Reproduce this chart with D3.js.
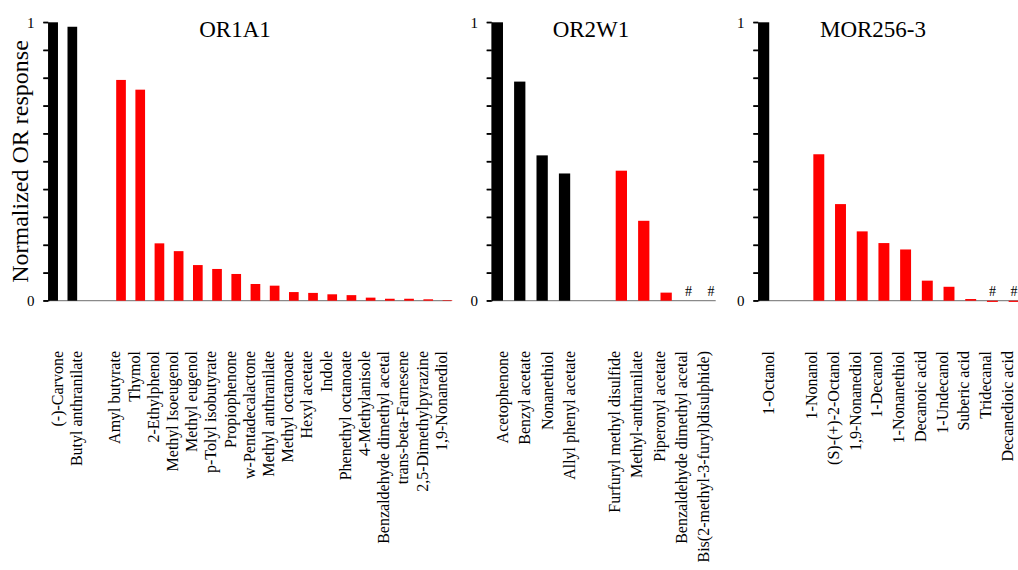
<!DOCTYPE html>
<html>
<head>
<meta charset="utf-8">
<script src="https://cdn.jsdelivr.net/npm/d3@7"></script>
<style>
  html, body { margin: 0; padding: 0; background: #fff; }
  svg { display: block; font-family: "Liberation Serif", "Times New Roman", serif; }
</style>
</head>
<body>
<svg id="chart" width="1018" height="570"></svg>
<script>
// ---------------- DATA ----------------
const yAxisTitle = "Normalized OR response";
const yTickLabels = ["0", "1"];
const yTickValues = [0, 0.1, 0.2, 0.3, 0.4, 0.5, 0.6, 0.7, 0.8, 0.9, 1];
const seriesKeys = ["black", "red"];

const or1a1Title = "OR1A1";
const or1a1Categories = ["(-)-Carvone", "Butyl anthranilate", "", "Amyl butyrate", "Thymol", "2-Ethylphenol",
  "Methyl Isoeugenol", "Methyl eugenol", "p-Tolyl isobutyrate", "Propiophenone", "w-Pentadecalactone",
  "Methyl anthranilate", "Methyl octanoate", "Hexyl acetate", "Indole", "Phenethyl octanoate",
  "4-Methylanisole", "Benzaldehyde dimethyl acetal", "trans-beta-Farnesene", "2,5-Dimethylpyrazine",
  "1,9-Nonanediol"];
const or1a1Black = [1.0, 0.984, null, null, null, null, null, null, null, null, null,
  null, null, null, null, null, null, null, null, null, null];
const or1a1Red = [null, null, null, 0.793, 0.758, 0.206, 0.178, 0.128, 0.114, 0.096, 0.060,
  0.054, 0.031, 0.028, 0.023, 0.020, 0.011, 0.007, 0.007, 0.005, 0.002];
const or1a1Marks = ["", "", "", "", "", "", "", "", "", "", "", "", "", "", "", "", "", "", "", "", ""];

const or2w1Title = "OR2W1";
const or2w1Categories = ["Acetophenone", "Benzyl acetate", "Nonanethiol", "Allyl phenyl acetate", "",
  "Furfuryl methyl disulfide", "Methyl-anthranilate", "Piperonyl acetate",
  "Benzaldehyde dimethyl acetal", "Bis(2-methyl-3-furyl)disulphide)"];
const or2w1Black = [1.0, 0.787, 0.522, 0.457, null, null, null, null, null, null];
const or2w1Red = [null, null, null, null, null, 0.467, 0.287, 0.029, 0, 0];
const or2w1Marks = ["", "", "", "", "", "", "", "", "#", "#"];

const mor256Title = "MOR256-3";
const mor256Categories = ["1-Octanol", "", "1-Nonanol", "(S)-(+)-2-Octanol", "1,9-Nonanediol", "1-Decanol",
  "1-Nonanethiol", "Decanoic acid", "1-Undecanol", "Suberic acid", "Tridecanal", "Decanedioic acid"];
const mor256Black = [1.0, null, null, null, null, null, null, null, null, null, null, null];
const mor256Red = [null, null, 0.526, 0.347, 0.249, 0.207, 0.184, 0.072, 0.050, 0.006, -0.003, -0.003];
const mor256Marks = ["", "", "", "", "", "", "", "", "", "", "#", "#"];

// ---------------- LAYOUT ----------------
const colors = { black: "#000000", red: "#ff0000" };
const yTop = 22.3, yBottom = 300.7;
const labelTopY = 351;

const panels = [
  { title: or1a1Title, cats: or1a1Categories, black: or1a1Black, red: or1a1Red, marks: or1a1Marks,
    x0: 48.3, x1: 451.5, titleX: 235, showYTitle: true },
  { title: or2w1Title, cats: or2w1Categories, black: or2w1Black, red: or2w1Red, marks: or2w1Marks,
    x0: 491.7, x1: 715.7, titleX: 591, showYTitle: false },
  { title: mor256Title, cats: mor256Categories, black: mor256Black, red: mor256Red, marks: mor256Marks,
    x0: 758.3, x1: 1018.7, titleX: 873, showYTitle: false }
];

const svg = d3.select("#chart");
const y = d3.scaleLinear().domain([0, 1]).range([yBottom, yTop]);

panels.forEach(p => {
  const g = svg.append("g");
  const idx = d3.range(p.cats.length);
  const x = d3.scaleBand().domain(idx).range([p.x0, p.x1]).paddingInner(0).paddingOuter(0);
  const xs = d3.scaleBand().domain(seriesKeys).range([0, x.bandwidth() * 1.04]).paddingInner(0.06).paddingOuter(0);

  // baseline
  g.append("line")
    .attr("x1", p.x0).attr("x2", p.x1)
    .attr("y1", y(0)).attr("y2", y(0))
    .attr("stroke", "#8a8a8a").attr("stroke-width", 1.2);

  // bars
  const rows = [];
  idx.forEach(i => {
    seriesKeys.forEach(k => {
      const v = p[k][i];
      if (v !== null && v !== undefined) rows.push({ i, k, v });
    });
  });
  g.selectAll("rect.bar").data(rows).enter().append("rect")
    .attr("class", "bar")
    .attr("x", d => x(d.i) + xs(d.k))
    .attr("width", xs.bandwidth())
    .attr("y", d => Math.min(y(d.v), y(0)))
    .attr("height", d => Math.max(Math.abs(y(d.v) - y(0)), d.v < 0 ? 1.2 : 0))
    .attr("fill", d => colors[d.k]);

  // "#" marks
  g.selectAll("text.mark").data(idx.filter(i => p.marks[i])).enter().append("text")
    .attr("class", "mark")
    .attr("x", i => x(i) + xs("red") + xs.bandwidth() / 2)
    .attr("y", y(0) - 4.5)
    .attr("text-anchor", "middle")
    .attr("font-size", 14)
    .attr("fill", "#000")
    .text(i => p.marks[i]);

  // y axis (D3 axis for the spine) + explicit tick marks
  const axis = d3.axisLeft(y).tickValues(yTickValues).tickSize(5).tickSizeOuter(0).tickFormat("");
  const ag = g.append("g").attr("transform", `translate(${p.x0},0)`).call(axis);
  ag.select(".domain").attr("stroke", "#000").attr("stroke-width", 1.3);
  ag.selectAll(".tick line").attr("stroke", "#000").attr("stroke-width", 1.3);

  g.selectAll("line.ytick").data(yTickValues).enter().append("line")
    .attr("class", "ytick")
    .attr("x1", p.x0 - 5).attr("x2", p.x0)
    .attr("y1", d => y(d)).attr("y2", d => y(d))
    .attr("stroke", "#000").attr("stroke-width", 1.3);

  // tick labels 0 and 1
  g.selectAll("text.ylab").data(yTickLabels).enter().append("text")
    .attr("class", "ylab")
    .attr("x", p.x0 - 17.5)
    .attr("y", d => y(+d))
    .attr("dy", "0.35em")
    .attr("text-anchor", "middle")
    .attr("font-size", 15)
    .attr("fill", "#000")
    .text(d => d);

  // category labels
  g.selectAll("text.cat").data(idx.filter(i => p.cats[i] !== "")).enter().append("text")
    .attr("class", "cat")
    .attr("transform", i => `translate(${x(i) + x.bandwidth() / 2},${labelTopY}) rotate(-90)`)
    .attr("dy", "0.3em")
    .attr("text-anchor", "end")
    .attr("font-size", 16)
    .attr("fill", "#000")
    .text(i => p.cats[i]);

  // title
  g.append("text")
    .attr("x", p.titleX).attr("y", 37)
    .attr("text-anchor", "middle")
    .attr("font-size", 23)
    .attr("fill", "#000")
    .text(p.title);

  if (p.showYTitle) {
    svg.append("text")
      .attr("transform", `translate(28,${(yTop + yBottom) / 2}) rotate(-90)`)
      .attr("text-anchor", "middle")
      .attr("font-size", 24)
      .attr("fill", "#000")
      .text(yAxisTitle);
  }
});
</script>
</body>
</html>
